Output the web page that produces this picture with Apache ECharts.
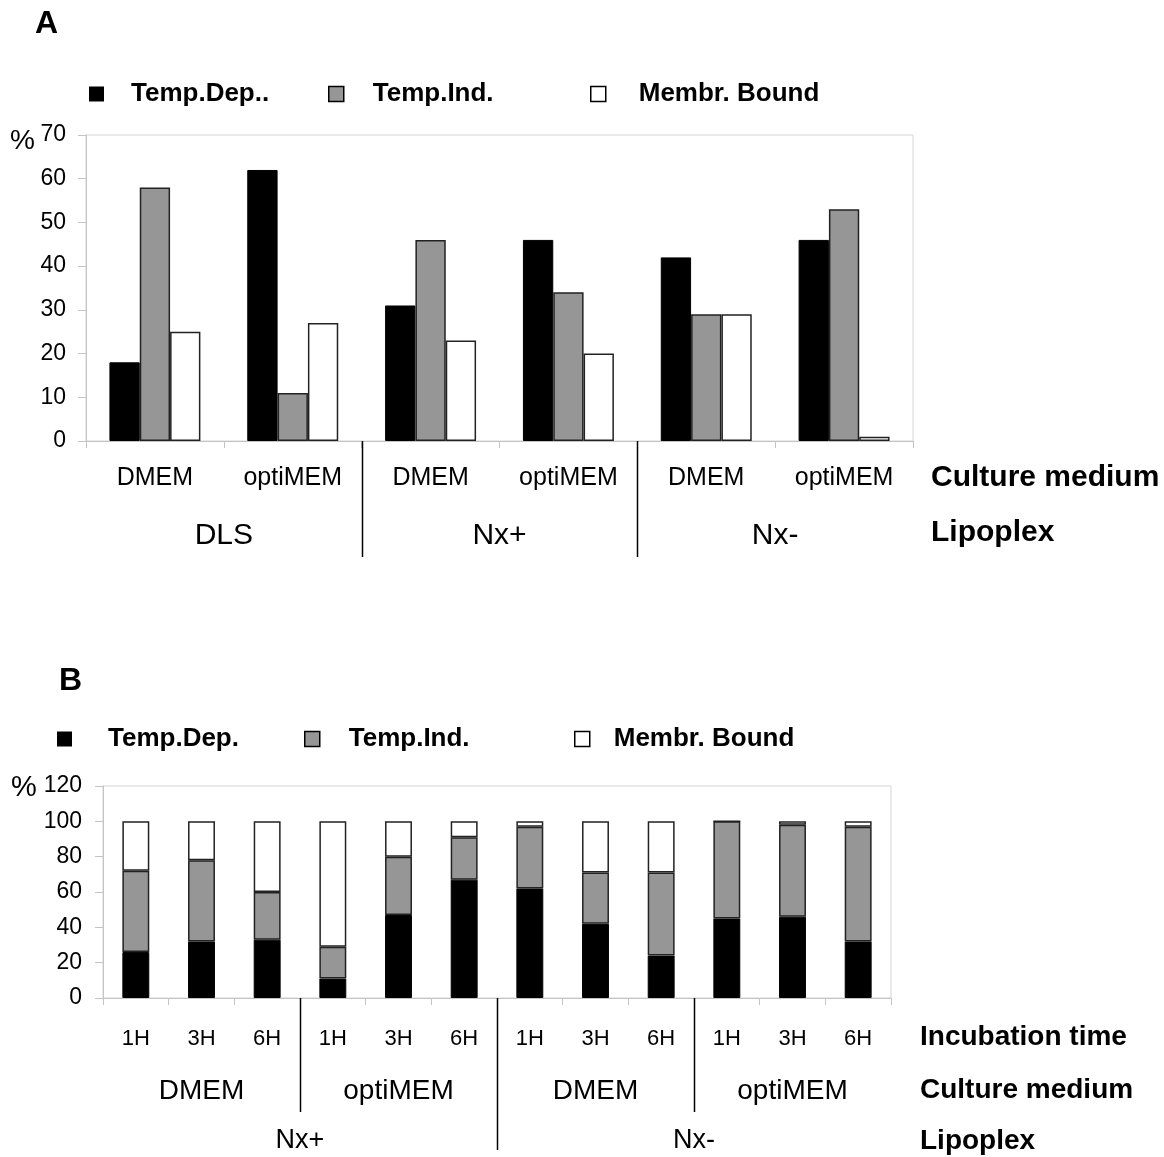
<!DOCTYPE html>
<html>
<head>
<meta charset="utf-8">
<script src="https://cdn.jsdelivr.net/npm/echarts@6/dist/echarts.min.js"></script>
<style>
html,body{margin:0;padding:0;background:#fff;}
#chart{width:1164px;height:1157px;}
</style>
</head>
<body>
<div id="chart"></div>
<script>
// ---- Panel A data ----
const mediumA = ['DMEM', 'optiMEM', 'DMEM', 'optiMEM', 'DMEM', 'optiMEM'];
const lipoplexA = ['DLS', 'Nx+', 'Nx-'];
const tempDepA = [18, 62, 31, 46, 42, 46];
const tempIndA = [58, 11, 46, 34, 29, 53];
const membrBoundA = [25, 27, 23, 20, 29, 1];
const yTicksA = [0, 10, 20, 30, 40, 50, 60, 70];

// ---- Panel B data ----
const timeB = ['1H', '3H', '6H', '1H', '3H', '6H', '1H', '3H', '6H', '1H', '3H', '6H'];
const mediumB = ['DMEM', 'optiMEM', 'DMEM', 'optiMEM'];
const lipoplexB = ['Nx+', 'Nx-'];
const tempDepB = [26, 32, 33, 11, 47, 67, 62, 42, 24, 45, 46, 32];
const tempIndB = [46, 46, 27, 18, 33, 24, 35, 29, 47, 55, 52, 65];
const membrBoundB = [28, 22, 40, 71, 20, 9, 3, 29, 29, 0, 2, 3];
const yTicksB = [0, 20, 40, 60, 80, 100, 120];

const FONT = 'Liberation Sans, Arial, Helvetica, sans-serif';
const AXIS_GRAY = '#c4c4c4';
const BLACK = '#000000';
const GRAY = '#969696';
const WHITE = '#ffffff';
const EDGE = '#222222';

const chart = echarts.init(document.getElementById('chart'), null, {renderer: 'canvas'});

function legend(name, left, top, color, gap, bordered) {
  return {
    left: left, top: top, orient: 'horizontal', padding: 0,
    itemWidth: 15, itemHeight: 15,
    icon: 'rect',
    selectedMode: false,
    textStyle: {fontFamily: FONT, fontSize: 26, fontWeight: 'bold', color: '#000', lineHeight: 26,
                padding: [0, 0, 0, gap - 5]},
    data: [{name: name, itemStyle: {color: color, borderColor: bordered ? '#000' : color, borderWidth: bordered ? 1.5 : 0}}]
  };
}

function catAxis(gridIndex, data, opts) {
  return Object.assign({
    type: 'category', gridIndex: gridIndex, data: data, position: 'bottom',
    boundaryGap: true,
    axisLine: {show: false},
    axisTick: {show: false},
    splitLine: {show: false},
    axisLabel: {interval: 0, color: '#000', fontFamily: FONT}
  }, opts);
}

const valAxisLabel = {color: '#000', fontFamily: FONT, fontSize: 23};

const option = {
  animation: false,
  backgroundColor: '#fff',
  grid: [
    {left: 86, top: 135, width: 827, height: 306, show: true, borderColor: '#d4d4d4', borderWidth: 1, containLabel: false},
    {left: 103, top: 786, width: 788, height: 212, show: true, borderColor: '#d4d4d4', borderWidth: 1, containLabel: false}
  ],
  legend: [
    legend('Temp.Dep..', 89, 81, BLACK, 27, false),
    legend('Temp.Ind.', 328, 81, GRAY, 29, true),
    legend('Membr. Bound', 590, 81, WHITE, 33, true),
    legend('Temp.Dep.', 57, 726, BLACK, 36, false),
    legend('Temp.Ind.', 304, 726, GRAY, 29, true),
    legend('Membr. Bound', 574, 726, WHITE, 24, true)
  ],
  xAxis: [
    catAxis(0, mediumA, {
      axisLine: {show: true, lineStyle: {color: AXIS_GRAY, width: 1}},
      axisTick: {show: true, interval: 0, length: 7, lineStyle: {color: AXIS_GRAY}},
      axisLabel: {interval: 0, color: '#000', fontFamily: FONT, fontSize: 25, margin: 25}
    }),
    catAxis(0, lipoplexA, {
      axisLabel: {interval: 0, color: '#000', fontFamily: FONT, fontSize: 30, margin: 80}
    }),
    catAxis(1, timeB, {
      axisLine: {show: true, lineStyle: {color: AXIS_GRAY, width: 1}},
      axisTick: {show: true, interval: 0, length: 7, lineStyle: {color: AXIS_GRAY}},
      axisLabel: {interval: 0, color: '#000', fontFamily: FONT, fontSize: 22, margin: 30}
    }),
    catAxis(1, mediumB, {
      axisLabel: {interval: 0, color: '#000', fontFamily: FONT, fontSize: 28, margin: 79}
    }),
    catAxis(1, lipoplexB, {
      axisLabel: {interval: 0, color: '#000', fontFamily: FONT, fontSize: 27, margin: 129}
    })
  ],
  yAxis: [
    {
      type: 'value', gridIndex: 0, min: yTicksA[0], max: yTicksA[yTicksA.length - 1], interval: 10,
      axisLine: {show: true, lineStyle: {color: AXIS_GRAY}},
      axisTick: {show: true, length: 8, lineStyle: {color: AXIS_GRAY}},
      splitLine: {show: false},
      axisLabel: Object.assign({margin: 20}, valAxisLabel)
    },
    {
      type: 'value', gridIndex: 1, min: yTicksB[0], max: yTicksB[yTicksB.length - 1], interval: 20,
      axisLine: {show: true, lineStyle: {color: AXIS_GRAY}},
      axisTick: {show: true, length: 8, lineStyle: {color: AXIS_GRAY}},
      splitLine: {show: false},
      axisLabel: Object.assign({margin: 21}, valAxisLabel)
    }
  ],
  series: [
    {name: 'Temp.Dep..', type: 'bar', xAxisIndex: 0, yAxisIndex: 0, data: tempDepA,
     barGap: '0%', barCategoryGap: '34%',
     itemStyle: {color: BLACK, borderColor: BLACK, borderWidth: 1}},
    {name: 'Temp.Ind.', type: 'bar', xAxisIndex: 0, yAxisIndex: 0, data: tempIndA,
     barGap: '0%', barCategoryGap: '34%',
     itemStyle: {color: GRAY, borderColor: EDGE, borderWidth: 1.5}},
    {name: 'Membr. Bound', type: 'bar', xAxisIndex: 0, yAxisIndex: 0, data: membrBoundA,
     barGap: '0%', barCategoryGap: '34%',
     itemStyle: {color: WHITE, borderColor: EDGE, borderWidth: 1.5}},
    {name: 'Temp.Dep.', type: 'bar', xAxisIndex: 2, yAxisIndex: 1, stack: 'b', data: tempDepB,
     barCategoryGap: '59%',
     itemStyle: {color: BLACK, borderColor: BLACK, borderWidth: 1}},
    {name: 'Temp.Ind.', type: 'bar', xAxisIndex: 2, yAxisIndex: 1, stack: 'b', data: tempIndB,
     barCategoryGap: '59%',
     itemStyle: {color: GRAY, borderColor: EDGE, borderWidth: 1.5}},
    {name: 'Membr. Bound', type: 'bar', xAxisIndex: 2, yAxisIndex: 1, stack: 'b', data: membrBoundB,
     barCategoryGap: '59%',
     itemStyle: {color: WHITE, borderColor: EDGE, borderWidth: 1.5}}
  ]
};

chart.setOption(option);

// Separators and row labels computed from the axes' own scales
function boundary(axisIndex, i) {
  const a = chart.convertToPixel({xAxisIndex: axisIndex}, i - 1);
  const b = chart.convertToPixel({xAxisIndex: axisIndex}, i);
  return (a + b) / 2;
}
const y0A = chart.convertToPixel({yAxisIndex: 0}, 0);
const y0B = chart.convertToPixel({yAxisIndex: 1}, 0);

function vline(x, y1, y2) {
  return {type: 'line', silent: true, z: 10,
    shape: {x1: Math.round(x) + 0.5, y1: y1, x2: Math.round(x) + 0.5, y2: y2},
    style: {stroke: '#000', lineWidth: 1.5}};
}
function txt(text, x, y, size, bold) {
  return {type: 'text', x: x, y: y, silent: true,
    style: {text: text, fontFamily: FONT, fontSize: size, fontWeight: bold ? 'bold' : 'normal',
            fill: '#000', verticalAlign: 'middle', align: 'left'}};
}

const graphics = [];
for (let i = 1; i < lipoplexA.length; i++) graphics.push(vline(boundary(1, i), y0A, y0A + 116));
for (let i = 1; i < mediumB.length; i++) {
  if (i === 2) continue;
  graphics.push(vline(boundary(3, i), y0B, y0B + 114));
}
for (let i = 1; i < lipoplexB.length; i++) graphics.push(vline(boundary(4, i), y0B, y0B + 152));

graphics.push(txt('A', 35, 24, 32, true));
graphics.push(txt('B', 59, 681, 32, true));
graphics.push(txt('%', 10, 141, 28, false));
graphics.push(txt('%', 11, 788, 29, false));
graphics.push(txt('Culture medium', 931, 478, 30, true));
graphics.push(txt('Lipoplex', 931, 533, 30, true));
graphics.push(txt('Incubation time', 920, 1037, 28, true));
graphics.push(txt('Culture medium', 920, 1090, 28, true));
graphics.push(txt('Lipoplex', 920, 1141, 28, true));

chart.setOption({graphic: graphics});
</script>
</body>
</html>
